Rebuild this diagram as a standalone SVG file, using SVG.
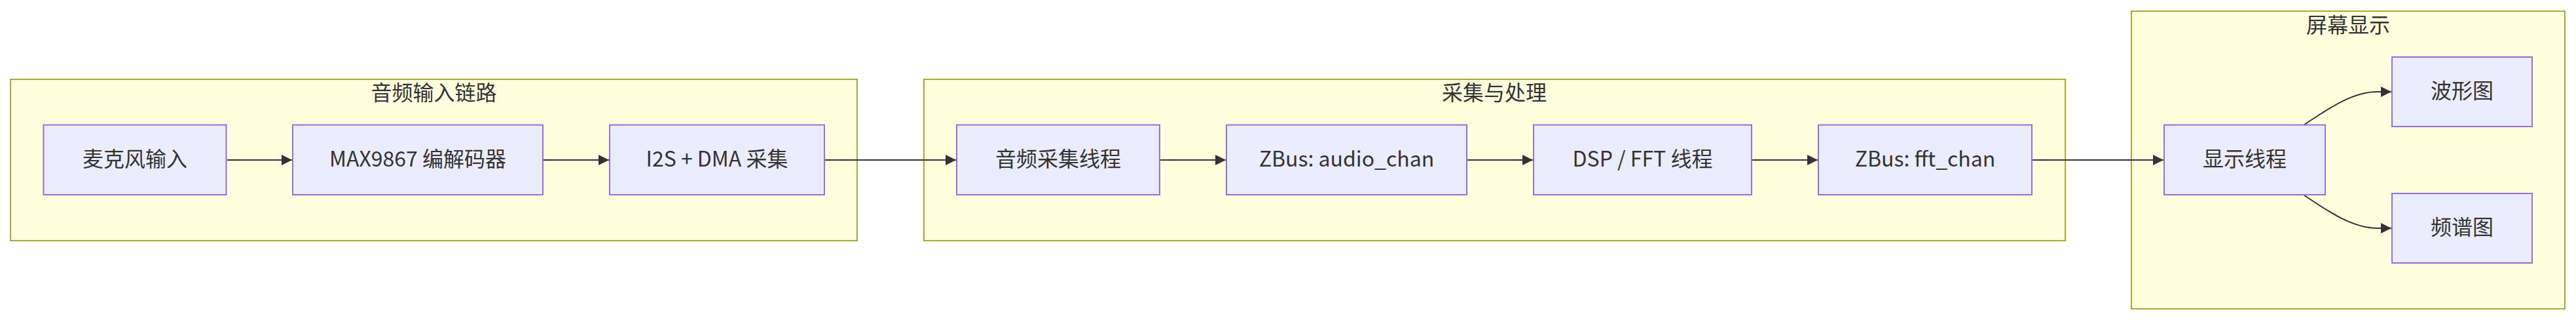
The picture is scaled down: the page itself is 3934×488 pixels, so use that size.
<svg xmlns="http://www.w3.org/2000/svg" width="3934" height="488" viewBox="0 0 3934 488">
<style>
.cluster rect{fill:#ffffde;stroke:#aaaa33;stroke-width:2}
.node rect{fill:#ececff;stroke:#9370db;stroke-width:2}
text{font-family:"Noto Sans CJK SC","Noto Sans",sans-serif;font-size:32px;fill:#333333;text-anchor:middle}
.edges path{fill:none;stroke:#333333;stroke-width:2}
</style>
<defs>
<marker id="arrow" viewBox="0 0 10 10" refX="10" refY="5" markerUnits="userSpaceOnUse" markerWidth="16" markerHeight="16" orient="auto">
<path d="M0,0 L10,5 L0,10 z" fill="#333333"/>
</marker>
</defs>
<rect width="3934" height="488" fill="#ffffff"/>
<g id="cluster-input" class="cluster">
<rect x="16" y="121" width="1293" height="246"/>
<text x="662.5" y="153">音频输入链路</text>
</g>
<g id="cluster-process" class="cluster">
<rect x="1411" y="121" width="1743" height="246"/>
<text x="2282" y="153">采集与处理</text>
</g>
<g id="cluster-display" class="cluster">
<rect x="3255" y="17" width="662" height="454"/>
<text x="3586" y="49.5">屏幕显示</text>
</g>
<g id="edges" class="edges">
<path d="M347,244 L446,244" marker-end="url(#arrow)"/>
<path d="M830,244 L930,244" marker-end="url(#arrow)"/>
<path d="M1260,244 L1460,244" marker-end="url(#arrow)"/>
<path d="M1772,244 L1872,244" marker-end="url(#arrow)"/>
<path d="M2241,244 L2341,244" marker-end="url(#arrow)"/>
<path d="M2676,244 L2776,244" marker-end="url(#arrow)"/>
<path d="M3104,244 L3304,244" marker-end="url(#arrow)"/>
<path d="M3519,190 C3550,170 3590,140 3630,140 L3652,140" marker-end="url(#arrow)"/>
<path d="M3519,298 C3550,318 3590,348 3630,348 L3652,348" marker-end="url(#arrow)"/>
</g>
<g id="node-mic" class="node">
<rect x="66.5" y="190.5" width="279" height="106.5"/>
<text x="206" y="254">麦克风输入</text>
</g>
<g id="node-codec" class="node">
<rect x="447" y="190.5" width="382" height="106.5"/>
<text x="638" y="254">MAX9867 编解码器</text>
</g>
<g id="node-i2s" class="node">
<rect x="931" y="190.5" width="328" height="106.5"/>
<text x="1095" y="254">I2S + DMA 采集</text>
</g>
<g id="node-capture" class="node">
<rect x="1461" y="190.5" width="310" height="106.5"/>
<text x="1616" y="254">音频采集线程</text>
</g>
<g id="node-audiochan" class="node">
<rect x="1873" y="190.5" width="367" height="106.5"/>
<text x="2056.5" y="254">ZBus: audio_chan</text>
</g>
<g id="node-dsp" class="node">
<rect x="2342" y="190.5" width="333" height="106.5"/>
<text x="2508.5" y="254">DSP / FFT 线程</text>
</g>
<g id="node-fftchan" class="node">
<rect x="2777" y="190.5" width="326" height="106.5"/>
<text x="2940" y="254">ZBus: fft_chan</text>
</g>
<g id="node-display" class="node">
<rect x="3305" y="190.5" width="246" height="106.5"/>
<text x="3428" y="254">显示线程</text>
</g>
<g id="node-wave" class="node">
<rect x="3653" y="87" width="214" height="106"/>
<text x="3760" y="150">波形图</text>
</g>
<g id="node-spectrum" class="node">
<rect x="3653" y="295" width="214" height="106"/>
<text x="3760" y="358">频谱图</text>
</g>
</svg>
